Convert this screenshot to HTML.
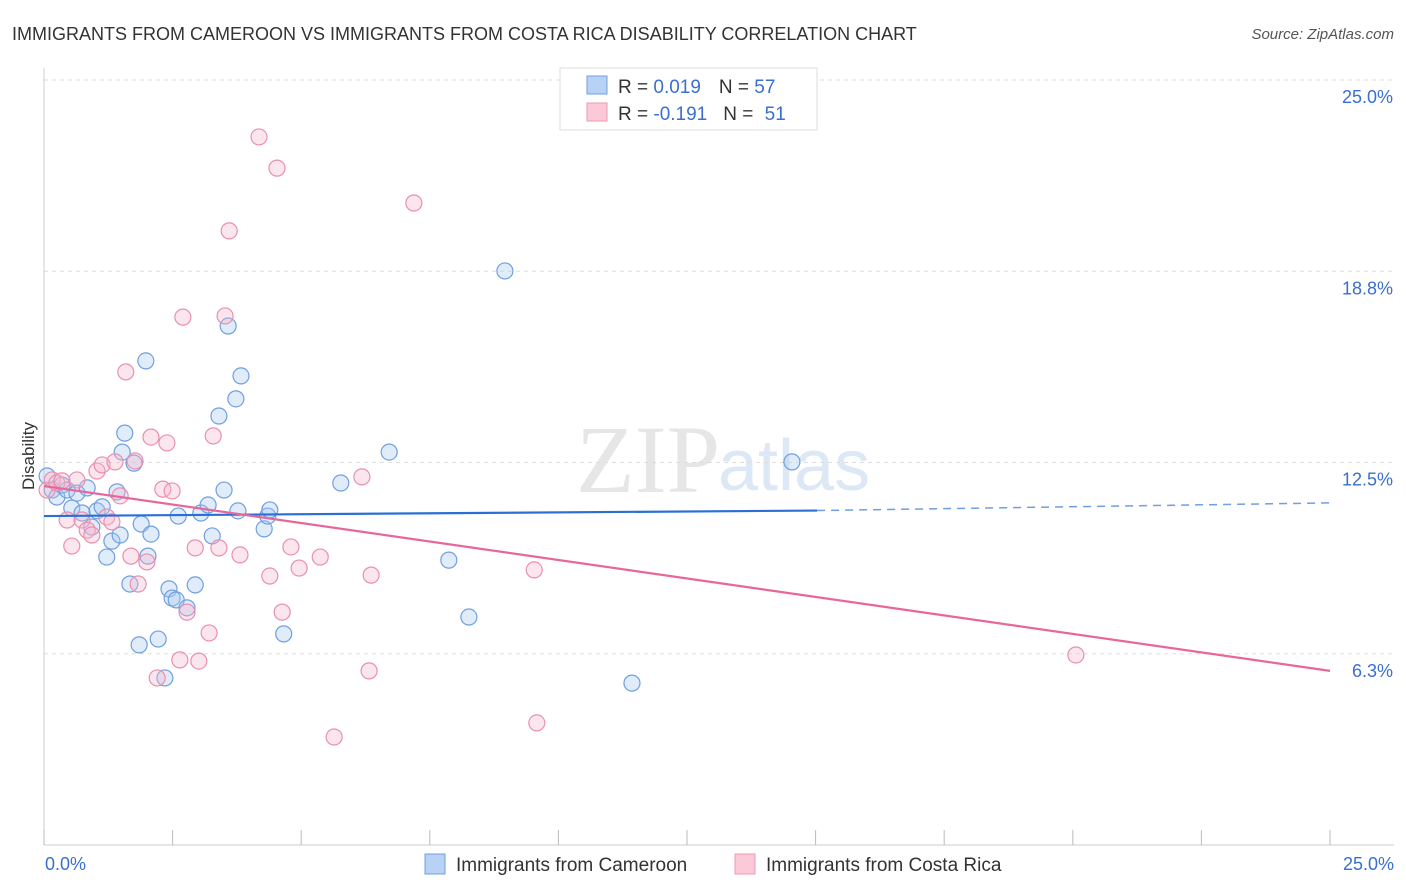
<!DOCTYPE html>
<html><head><meta charset="utf-8"><style>
body{margin:0;background:#fff;font-family:"Liberation Sans",sans-serif}
svg{display:block}
</style></head><body>
<svg id="c" width="1406" height="892">
<text x="12" y="40" font-size="18" fill="#333">IMMIGRANTS FROM CAMEROON VS IMMIGRANTS FROM COSTA RICA DISABILITY CORRELATION CHART</text>
<text x="1394" y="39" font-size="15" fill="#555" font-style="italic" text-anchor="end">Source: ZipAtlas.com</text>
<text x="720" y="492" font-size="96" fill="#e6e6e6" font-family="Liberation Serif,serif" text-anchor="end">ZIP</text>
<text x="718" y="490" font-size="72" fill="#dce8f5" text-anchor="start">atlas</text>
<text x="34" y="456" font-size="17" fill="#333" text-anchor="middle" transform="rotate(-90 34 456)">Disability</text>
<g id="grid"></g><g id="axes"></g><g id="pts"></g><g id="trend"></g>
<g>
<rect x="560" y="68" width="257" height="62" fill="#fff" stroke="#ddd"/>
<rect x="587" y="76" width="20" height="18" fill="#b8d2f5" stroke="#6f9fe0"/>
<rect x="587" y="103" width="20" height="18" fill="#fbc9d8" stroke="#ee9ab5"/>
<text x="618" y="93" font-size="19" fill="#333">R = <tspan fill="#3a6fd0">0.019</tspan><tspan dx="18">N = </tspan><tspan fill="#3a6fd0">57</tspan></text>
<text x="618" y="120" font-size="19" fill="#333">R = <tspan fill="#3a6fd0">-0.191</tspan><tspan dx="16">N = </tspan><tspan fill="#3a6fd0" dx="6">51</tspan></text>
</g>
<g>
<rect x="425" y="854" width="20" height="20" fill="#b8d2f5" stroke="#6f9fe0"/>
<text x="456" y="871" font-size="19" fill="#333">Immigrants from Cameroon</text>
<rect x="735" y="854" width="20" height="20" fill="#fbc9d8" stroke="#ee9ab5"/>
<text x="766" y="871" font-size="19" fill="#333">Immigrants from Costa Rica</text>
</g>
</svg>
<script>
const yTicks=[25.0,18.75,12.5,6.25];
const yTickLabels=["25.0%","18.8%","12.5%","6.3%"];
const xTicks=[0,2.5,5,7.5,10,12.5,15,17.5,20,22.5,25];
const xEndLabels=["0.0%","25.0%"];
const cameroon=[[0.06,12.06],[0.16,11.60],[0.25,11.37],[0.35,11.76],[0.45,11.60],[0.54,11.01],[0.64,11.50],[0.74,10.85],[0.84,11.67],[0.93,10.39],[1.03,10.92],[1.13,11.05],[1.22,9.41],[1.32,9.93],[1.42,11.54],[1.48,10.13],[1.52,12.84],[1.57,13.46],[1.67,8.53],[1.75,12.48],[1.85,6.54],[1.89,10.49],[1.98,15.82],[2.02,9.44],[2.08,10.16],[2.22,6.73],[2.35,5.46],[2.43,8.37],[2.49,8.07],[2.57,8.01],[2.61,10.75],[2.78,7.75],[2.94,8.50],[3.05,10.85],[3.19,11.11],[3.27,10.10],[3.40,14.02],[3.50,11.60],[3.58,16.96],[3.73,14.58],[3.77,10.92],[3.83,15.33],[4.28,10.33],[4.35,10.75],[4.39,10.95],[4.66,6.90],[5.77,11.83],[6.71,12.84],[7.87,9.31],[8.26,7.45],[8.96,18.76],[11.43,5.29],[14.54,12.52]];
const costaRica=[[0.06,11.60],[0.16,11.93],[0.25,11.83],[0.35,11.90],[0.45,10.62],[0.54,9.77],[0.64,11.93],[0.74,10.62],[0.84,10.29],[0.93,10.13],[1.03,12.22],[1.13,12.42],[1.22,10.72],[1.32,10.56],[1.38,12.52],[1.48,11.41],[1.59,15.46],[1.69,9.44],[1.77,12.55],[1.83,8.53],[2.00,9.25],[2.08,13.33],[2.20,5.46],[2.31,11.63],[2.39,13.14],[2.49,11.57],[2.64,6.05],[2.70,17.25],[2.78,7.61],[2.94,9.71],[3.01,6.01],[3.21,6.93],[3.29,13.37],[3.40,9.71],[3.52,17.29],[3.60,20.07],[3.81,9.48],[4.18,23.14],[4.39,8.79],[4.53,22.12],[4.63,7.61],[4.80,9.74],[4.96,9.05],[5.37,9.41],[5.64,3.53],[6.18,12.03],[6.32,5.69],[6.36,8.82],[7.19,20.98],[9.53,8.99],[9.58,3.99],[20.06,6.21]];
const cameroonTrend=[[0,10.75],[15.03,10.93],[25,11.18]];
const costaTrend=[[0,11.73],[25,5.69]];
const NS="http://www.w3.org/2000/svg";
const X=v=>44+v*51.44, Y=v=>845-v*30.6;
function mk(t,a,p){const e=document.createElementNS(NS,t);for(const k in a)e.setAttribute(k,a[k]);p.appendChild(e);return e;}
const grid=document.getElementById('grid'),axes=document.getElementById('axes'),pts=document.getElementById('pts'),tr=document.getElementById('trend');
yTicks.forEach((v,i)=>{
 const l=mk('line',{x1:44,x2:1394,y1:Y(v),y2:Y(v),stroke:'#ddd','stroke-dasharray':'4 4'},grid);
 
 
 const t=mk('text',{x:1393,y:Y(v)+23,'font-size':18,fill:'#3a6fd0','text-anchor':'end'},axes);
 t.textContent=yTickLabels[i];
 
 
});
const ax=mk('line',{x1:44,x2:44,y1:68,y2:845,stroke:'#ccc'},axes);


const bx=mk('line',{x1:44,x2:1394,y1:845,y2:845,stroke:'#ccc'},axes);


xTicks.forEach(v=>{
 const l=mk('line',{x1:X(v),x2:X(v),y1:830,y2:845,stroke:'#bbb'},axes);
 
 
});
[[0,'start',45],[25,'end',1394]].forEach((d,i)=>{
 const t=mk('text',{x:d[2],y:870,'font-size':18,fill:'#3a6fd0','text-anchor':d[1]},axes);
 t.textContent=xEndLabels[i];
 
 
});
function dots(arr,fill,stroke,name){arr.forEach(p=>{
 const c=mk('circle',{cx:X(p[0]),cy:Y(p[1]),r:8,fill:fill,'fill-opacity':0.35,stroke:stroke,'stroke-width':1.2},pts);
 
 
});}
dots(cameroon,'#a9c8f2','#6f9fe0','cameroon-point');
dots(costaRica,'#f7b8cc','#ea8fae','costa-rica-point');
const b1=mk('line',{x1:X(cameroonTrend[0][0]),y1:Y(cameroonTrend[0][1]),x2:X(cameroonTrend[1][0]),y2:Y(cameroonTrend[1][1]),stroke:'#2a6fd6','stroke-width':2.2},tr);


const b2=mk('line',{x1:X(cameroonTrend[1][0]),y1:Y(cameroonTrend[1][1]),x2:X(cameroonTrend[2][0]),y2:Y(cameroonTrend[2][1]),stroke:'#6f9fe0','stroke-width':1.5,'stroke-dasharray':'8 6'},tr);


const p1=mk('line',{x1:X(costaTrend[0][0]),y1:Y(costaTrend[0][1]),x2:X(costaTrend[1][0]),y2:Y(costaTrend[1][1]),stroke:'#e8679a','stroke-width':2.2},tr);


</script>
</body></html>
